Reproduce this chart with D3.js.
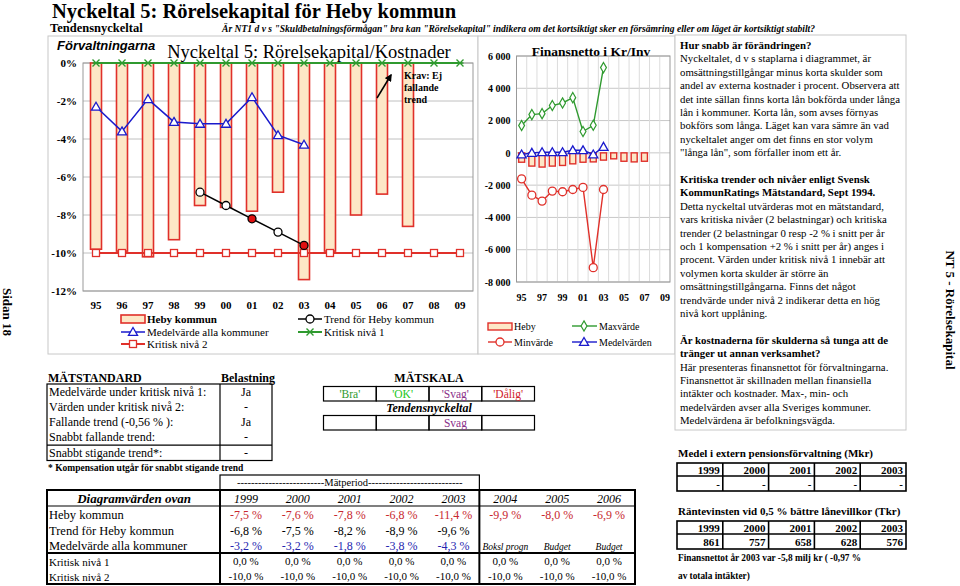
<!DOCTYPE html>
<html>
<head>
<meta charset="utf-8">
<script src="https://cdn.jsdelivr.net/npm/d3@7"></script>
<style>
  body { margin: 0; background: #fff; }
  text { font-family: "Liberation Serif", "Times New Roman", serif; }
</style>
</head>
<body>
<svg id="page" width="960" height="586"></svg>
<script>
// ---- data: main chart (Rörelsekapital/Kostnader, %) ----
const years = ['95','96','97','98','99','00','01','02','03','04','05','06','07','08','09'];
const hebyYears = ['95','96','97','98','99','00','01','02','03','04','05','06','07'];
const hebyPct = [-9.8, -9.9, -10.2, -9.3, -7.5, -7.6, -7.8, -6.8, -11.4, -9.9, -8.0, -6.9, -8.6];
const medelYears = ['95','96','97','98','99','00','01','02','03'];
const medelPct = [-2.3, -3.6, -1.9, -3.1, -3.2, -3.2, -1.8, -3.8, -4.3];
const trendYears = ['99','00','01','02','03'];
const trendPct = [-6.8, -7.5, -8.2, -8.9, -9.6];
const trendAlarm = [false, false, true, false, true];
const krit1 = [0,0,0,0,0,0,0,0,0,0,0,0,0,0,0];
const krit2 = [-10,-10,-10,-10,-10,-10,-10,-10,-10,-10,-10,-10,-10,-10,-10];
const pctTicks = [0, -2, -4, -6, -8, -10, -12];

// ---- data: Finansnetto i Kr/Inv ----
const finYears = years;
const finLabelYears = ['95','97','99','01','03','05','07','09'];
const finHeby = [-580, -820, -880, -820, -780, -680, -580, -560, -450, -370, -520, -560, -520];
const finMaxYears = ['95','96','97','98','99','00','01','02','03'];
const finMax = [1690, 2370, 2430, 2930, 3090, 3420, 1320, 1710, 5280];
const finMin = [-1610, -2620, -2990, -2370, -2410, -2270, -2140, -7110, -2270];
const finMedel = [-100, 0, 40, 40, 40, 160, 160, -100, 370];
const finTicks = [6000, 4000, 2000, 0, -2000, -4000, -6000, -8000];

// ---- data: tables ----
const tableYears = ['1999','2000','2001','2002','2003','2004','2005','2006'];
const tabHeby = ['-7,5 %','-7,6 %','-7,8 %','-6,8 %','-11,4 %','-9,9 %','-8,0 %','-6,9 %'];
const tabTrend = ['-6,8 %','-7,5 %','-8,2 %','-8,9 %','-9,6 %','','',''];
const tabMedel = ['-3,2 %','-3,2 %','-1,8 %','-3,8 %','-4,3 %','Boksl progn','Budget','Budget'];
const tabKrit1 = ['0,0 %','0,0 %','0,0 %','0,0 %','0,0 %','0,0 %','0,0 %','0,0 %'];
const tabKrit2 = ['-10,0 %','-10,0 %','-10,0 %','-10,0 %','-10,0 %','-10,0 %','-10,0 %','-10,0 %'];
const standardRows = ['Medelvärde under kritisk nivå 1:','Värden under kritisk nivå 2:','Fallande trend (-0,56 % ):','Snabbt fallande trend:','Snabbt stigande trend*:'];
const standardVals = ['Ja','-','Ja','-','-'];
const scaleLabels = ["'Bra'","'OK'","'Svag'","'Dålig'"];
const scaleColors = ['#2f9a2f','#19c619','#8a2f8a','#d0202a'];
const tendens = ['','','Svag',''];
const pensionYears = ['1999','2000','2001','2002','2003'];
const pensionVals = ['-','-','-','-','-'];
const ranteYears = ['1999','2000','2001','2002','2003'];
const ranteVals = ['861','757','658','628','576'];

const infoLines = [
  ['Hur snabb är förändringen?', true],
  ['Nyckeltalet, d v s staplarna i diagrammet, är', false],
  ['omsättningstillgångar minus korta skulder som', false],
  ['andel av externa kostnader i procent. Observera att', false],
  ['det inte sällan finns korta lån bokförda under långa', false],
  ['lån i kommuner. Korta lån, som avses förnyas', false],
  ['bokförs som långa. Läget kan vara sämre än vad', false],
  ['nyckeltalet anger om det finns en stor volym', false],
  ['"långa lån", som förfaller inom ett år.', false],
  ['', false],
  ['Kritiska trender och nivåer enligt Svensk', true],
  ['KommunRatings Mätstandard, Sept 1994.', true],
  ['Detta nyckeltal utvärderas mot en mätstandard,', false],
  ['vars kritiska nivåer (2 belastningar) och kritiska', false],
  ['trender (2 belastningar 0 resp -2 % i snitt per år', false],
  ['och 1 kompensation +2 % i snitt per år) anges i', false],
  ['procent. Värden under kritisk nivå 1 innebär att', false],
  ['volymen korta skulder är större än', false],
  ['omsättningstillgångarna.  Finns det något', false],
  ['trendvärde under nivå 2 indikerar detta en hög', false],
  ['nivå kort upplåning.', false],
  ['', false],
  ['Är kostnaderna för skulderna så tunga att de', true],
  ['tränger ut annan verksamhet?', true],
  ['Här presenteras finansnettot för förvaltningarna.', false],
  ['Finansnettot är skillnaden mellan finansiella', false],
  ['intäkter och kostnader. Max-, min- och', false],
  ['medelvärden avser alla Sveriges kommuner.', false],
  ['Medelvärdena är befolkningsvägda.', false]
];

const RED = '#e0302a', FILL = '#fde7c6', BLUE = '#1a1acc', GREEN = '#2f9a2f';
const svg = d3.select('#page');

function txt(g, x, y, s, o) {
  o = o || {};
  return g.append('text').attr('x', x).attr('y', y).text(s)
    .attr('font-size', o.size || 12)
    .attr('font-weight', o.bold ? 'bold' : null)
    .attr('font-style', o.italic ? 'italic' : null)
    .attr('text-anchor', o.anchor || 'start')
    .attr('fill', o.color || '#000')
    .style('font-family', o.family || null);
}
function marker(g, type, x, y, col, fill) {
  if (type === 'tri') {
    g.append('path').attr('d', d3.symbol(d3.symbolTriangle, 36)()).attr('transform', `translate(${x},${y + 0.8})`)
      .attr('fill', fill || '#fff').attr('stroke', col).attr('stroke-width', 1.3);
  } else if (type === 'sq') {
    g.append('rect').attr('x', x - 3.5).attr('y', y - 3.5).attr('width', 7).attr('height', 7)
      .attr('fill', fill || '#fff').attr('stroke', col).attr('stroke-width', 1.3);
  } else if (type === 'x') {
    g.append('path').attr('d', `M${x-3.5},${y-3.5}L${x+3.5},${y+3.5}M${x-3.5},${y+3.5}L${x+3.5},${y-3.5}M${x-3.5},${y}L${x+3.5},${y}`)
      .attr('stroke', col).attr('stroke-width', 1.4).attr('fill', 'none');
  } else if (type === 'circ') {
    g.append('circle').attr('cx', x).attr('cy', y).attr('r', 4)
      .attr('fill', fill || '#fff').attr('stroke', col).attr('stroke-width', 1.3);
  } else if (type === 'dia') {
    g.append('path').attr('d', d3.symbol(d3.symbolDiamond, 30)()).attr('transform', `translate(${x},${y})`)
      .attr('fill', fill || '#fff').attr('stroke', col).attr('stroke-width', 1.2);
  }
}

// ---- header ----
txt(svg, 52, 17.5, 'Nyckeltal 5: Rörelsekapital för Heby kommun', {size: 20.5, bold: true});
txt(svg, 50, 32, 'Tendensnyckeltal', {size: 12.5, bold: true});
txt(svg, 222, 32, 'Är NT1 d v s "Skuldbetalningsförmågan" bra kan "Rörelsekapital" indikera om det kortsiktigt sker en försämring eller om läget är kortsiktigt stabilt?', {size: 9.6, bold: true, italic: true})
  .attr('textLength', 593).attr('lengthAdjust', 'spacingAndGlyphs');
svg.append('text').attr('transform', 'translate(3,312) rotate(90)').attr('text-anchor', 'middle')
  .attr('font-size', 13).attr('font-weight', 'bold').text('Sidan 18');
svg.append('text').attr('transform', 'translate(946,310) rotate(90)').attr('text-anchor', 'middle')
  .attr('font-size', 13).attr('font-weight', 'bold').text('NT 5 - Rörelsekapital');

// ---- main chart ----
const main = svg.append('g');
main.append('rect').attr('x', 48).attr('y', 36).attr('width', 430).attr('height', 318)
  .attr('fill', '#fff').attr('stroke', '#c8c8c8');
const x = d3.scaleBand().domain(years).range([83, 473]);
const y = d3.scaleLinear().domain([-12, 0]).range([291, 63]);

main.append('g').selectAll('line').data(pctTicks).join('line')
  .attr('x1', 83).attr('x2', 473).attr('y1', d => y(d)).attr('y2', d => y(d))
  .attr('stroke', '#c0c0c0');
main.append('rect').attr('x', 83).attr('y', 63).attr('width', 390).attr('height', 228)
  .attr('fill', 'none').attr('stroke', '#999');

const yAx = main.append('g').attr('transform', 'translate(83,0)')
  .call(d3.axisLeft(y).tickValues(pctTicks).tickSize(0).tickPadding(6).tickFormat(d => d + '%'));
yAx.select('.domain').remove();
yAx.selectAll('text').attr('font-size', 11).attr('font-weight', 'bold').style('font-family', '"Liberation Serif", serif');
const xAx = main.append('g').attr('transform', 'translate(0,291)')
  .call(d3.axisBottom(x).tickSize(0).tickPadding(10));
xAx.select('.domain').remove();
xAx.selectAll('text').attr('font-size', 11).attr('font-weight', 'bold').style('font-family', '"Liberation Serif", serif');

const bw = 11;
main.append('g').selectAll('rect').data(hebyYears).join('rect')
  .attr('x', d => x(d) + x.bandwidth() / 2 - bw / 2).attr('width', bw)
  .attr('y', y(0)).attr('height', (d, i) => y(hebyPct[i]) - y(0))
  .attr('fill', FILL).attr('stroke', RED).attr('stroke-width', 1.6);

const cx = d => x(d) + x.bandwidth() / 2;
const line = d3.line();
main.append('path').attr('d', line(years.map((d, i) => [cx(d), y(krit1[i])])))
  .attr('stroke', GREEN).attr('stroke-width', 2).attr('fill', 'none');
years.forEach(d => marker(main, 'x', cx(d), y(0), GREEN));
main.append('path').attr('d', line(years.map((d, i) => [cx(d), y(krit2[i])])))
  .attr('stroke', RED).attr('stroke-width', 2).attr('fill', 'none');
years.forEach((d, i) => marker(main, 'sq', cx(d), y(krit2[i]), RED));
main.append('path').attr('d', line(medelYears.map((d, i) => [cx(d), y(medelPct[i])])))
  .attr('stroke', BLUE).attr('stroke-width', 1.5).attr('fill', 'none');
medelYears.forEach((d, i) => marker(main, 'tri', cx(d), y(medelPct[i]), BLUE));
main.append('path').attr('d', line(trendYears.map((d, i) => [cx(d), y(trendPct[i])])))
  .attr('stroke', '#000').attr('stroke-width', 1.5).attr('fill', 'none');
trendYears.forEach((d, i) => marker(main, 'circ', cx(d), y(trendPct[i]), '#000', trendAlarm[i] ? '#e01010' : '#fff'));

txt(main, 57, 50, 'Förvaltningarna', {size: 13, bold: true, italic: true, family: '"Liberation Sans", Arial, sans-serif'});
txt(main, 309, 58, 'Nyckeltal 5: Rörelsekapital/Kostnader', {size: 18.5, anchor: 'middle'});
txt(main, 404, 79, 'Krav: Ej', {size: 10, bold: true});
txt(main, 404, 91, 'fallande', {size: 10, bold: true});
txt(main, 404, 103, 'trend', {size: 10, bold: true});
svg.append('defs').append('marker').attr('id', 'ah').attr('viewBox', '0 0 10 10').attr('refX', 8).attr('refY', 5)
  .attr('markerWidth', 5).attr('markerHeight', 5).attr('orient', 'auto')
  .append('path').attr('d', 'M0,0L10,5L0,10z').attr('fill', '#000');
main.append('line').attr('x1', 377).attr('y1', 98).attr('x2', 391).attr('y2', 75)
  .attr('stroke', '#000').attr('stroke-width', 1.5).attr('marker-end', 'url(#ah)');

// legend main
const lg = main.append('g');
lg.append('rect').attr('x', 121).attr('y', 315).attr('width', 24).attr('height', 8).attr('fill', FILL).attr('stroke', RED).attr('stroke-width', 1.6);
txt(lg, 147, 323, 'Heby kommun', {size: 11, bold: true});
lg.append('line').attr('x1', 121).attr('x2', 145).attr('y1', 332).attr('y2', 332).attr('stroke', BLUE).attr('stroke-width', 1.5);
marker(lg, 'tri', 133, 332, BLUE);
txt(lg, 147, 336, 'Medelvärde alla kommuner', {size: 11});
lg.append('line').attr('x1', 121).attr('x2', 145).attr('y1', 344).attr('y2', 344).attr('stroke', RED).attr('stroke-width', 2);
marker(lg, 'sq', 133, 344, RED);
txt(lg, 147, 348, 'Kritisk nivå 2', {size: 11});
lg.append('line').attr('x1', 298).attr('x2', 322).attr('y1', 319).attr('y2', 319).attr('stroke', '#000').attr('stroke-width', 1.5);
marker(lg, 'circ', 310, 319, '#000');
txt(lg, 324, 323, 'Trend för Heby kommun', {size: 11});
lg.append('line').attr('x1', 298).attr('x2', 322).attr('y1', 332).attr('y2', 332).attr('stroke', GREEN).attr('stroke-width', 2);
marker(lg, 'x', 310, 332, GREEN);
txt(lg, 324, 336, 'Kritisk nivå 1', {size: 11});

// ---- Finansnetto chart ----
const fin = svg.append('g');
fin.append('rect').attr('x', 478).attr('y', 36).attr('width', 197).attr('height', 318)
  .attr('fill', '#fff').attr('stroke', '#c8c8c8');
const fx = d3.scaleBand().domain(finYears).range([516.5, 670]);
const fy = d3.scaleLinear().domain([-8000, 6000]).range([282, 56]);
const loc = d3.formatLocale({decimal: ',', thousands: ' ', grouping: [3], currency: ['', ''], minus: '-'});
fin.append('g').selectAll('line').data(finTicks).join('line')
  .attr('x1', 516.5).attr('x2', 670).attr('y1', d => fy(d)).attr('y2', d => fy(d)).attr('stroke', '#c8c8c8');
fin.append('g').selectAll('line').data(finYears.slice(1)).join('line')
  .attr('x1', d => fx(d)).attr('x2', d => fx(d)).attr('y1', 56).attr('y2', 282).attr('stroke', '#dcdcdc');
fin.append('rect').attr('x', 516.5).attr('y', 56).attr('width', 153.5).attr('height', 226)
  .attr('fill', 'none').attr('stroke', '#999');
const fyAx = fin.append('g').attr('transform', 'translate(516.5,0)')
  .call(d3.axisLeft(fy).tickValues(finTicks).tickSize(0).tickPadding(6).tickFormat(loc.format(',')));
fyAx.select('.domain').remove();
fyAx.selectAll('text').attr('font-size', 10).attr('font-weight', 'bold').style('font-family', '"Liberation Serif", serif');
const fxAx = fin.append('g').attr('transform', 'translate(0,282)')
  .call(d3.axisBottom(fx).tickValues(finLabelYears).tickSize(0).tickPadding(12));
fxAx.select('.domain').remove();
fxAx.selectAll('text').attr('font-size', 10).attr('font-weight', 'bold').style('font-family', '"Liberation Serif", serif');

const fcx = d => fx(d) + fx.bandwidth() / 2;
fin.append('g').selectAll('rect').data(hebyYears).join('rect')
  .attr('x', d => fcx(d) - 3).attr('width', 6)
  .attr('y', fy(0)).attr('height', (d, i) => fy(finHeby[i]) - fy(0))
  .attr('fill', FILL).attr('stroke', RED).attr('stroke-width', 1.4);
fin.append('path').attr('d', line(finMaxYears.map((d, i) => [fcx(d), fy(finMax[i])])))
  .attr('stroke', GREEN).attr('stroke-width', 1.4).attr('fill', 'none');
finMaxYears.forEach((d, i) => marker(fin, 'dia', fcx(d), fy(finMax[i]), GREEN));
fin.append('path').attr('d', line(finMaxYears.map((d, i) => [fcx(d), fy(finMin[i])])))
  .attr('stroke', RED).attr('stroke-width', 1.4).attr('fill', 'none');
finMaxYears.forEach((d, i) => marker(fin, 'circ', fcx(d), fy(finMin[i]), RED));
fin.append('path').attr('d', line(finMaxYears.map((d, i) => [fcx(d), fy(finMedel[i])])))
  .attr('stroke', BLUE).attr('stroke-width', 1.4).attr('fill', 'none');
finMaxYears.forEach((d, i) => marker(fin, 'tri', fcx(d), fy(finMedel[i]), BLUE));
txt(fin, 591, 56, 'Finansnetto i Kr/Inv', {size: 13.5, bold: true, anchor: 'middle'});

const fl = fin.append('g');
fl.append('rect').attr('x', 488).attr('y', 323).attr('width', 24).attr('height', 7).attr('fill', FILL).attr('stroke', RED).attr('stroke-width', 1.4);
txt(fl, 514, 330, 'Heby', {size: 10});
fl.append('line').attr('x1', 488).attr('x2', 512).attr('y1', 342).attr('y2', 342).attr('stroke', RED).attr('stroke-width', 1.4);
marker(fl, 'circ', 500, 342, RED);
txt(fl, 514, 346, 'Minvärde', {size: 10});
fl.append('line').attr('x1', 572).attr('x2', 597).attr('y1', 326).attr('y2', 326).attr('stroke', GREEN).attr('stroke-width', 1.4);
marker(fl, 'dia', 584, 326, GREEN);
txt(fl, 599, 330, 'Maxvärde', {size: 10});
fl.append('line').attr('x1', 572).attr('x2', 597).attr('y1', 342).attr('y2', 342).attr('stroke', BLUE).attr('stroke-width', 1.4);
marker(fl, 'tri', 584, 342, BLUE);
txt(fl, 599, 346, 'Medelvärden', {size: 10});

// ---- info text box ----
const info = svg.append('g');
info.append('rect').attr('x', 675).attr('y', 35).attr('width', 231).attr('height', 395)
  .attr('fill', '#fff').attr('stroke', '#c8c8c8');
infoLines.forEach((l, i) => {
  if (l[0]) txt(info, 680, 49 + i * 13.4, l[0], {size: 10.8, bold: l[1]});
});

// ---- MÄTSTANDARD ----
const ms = svg.append('g');
txt(ms, 48, 382, 'MÄTSTANDARD', {size: 12, bold: true});
txt(ms, 248, 382, 'Belastning', {size: 12, bold: true, anchor: 'middle'});
const rowY = d3.scaleLinear().domain([0, 5]).range([384, 460.5]);
ms.append('rect').attr('x', 47).attr('y', 384).attr('width', 225).attr('height', 76.5).attr('fill', 'none').attr('stroke', '#000').attr('stroke-width', 1.2);
ms.append('line').attr('x1', 220).attr('x2', 220).attr('y1', 384).attr('y2', 460.5).attr('stroke', '#000').attr('stroke-width', 1.2);
ms.append('line').attr('x1', 47).attr('x2', 272).attr('y1', rowY(4)).attr('y2', rowY(4)).attr('stroke', '#000').attr('stroke-width', 1.2);
standardRows.forEach((r, i) => {
  txt(ms, 49, rowY(i) + 11.5, r, {size: 12});
  txt(ms, 246, rowY(i) + 11.5, standardVals[i], {size: 12, anchor: 'middle'});
});
txt(ms, 48, 471, '* Kompensation utgår för snabbt stigande trend', {size: 9.5, bold: true});

txt(ms, 429, 382, 'MÄTSKALA', {size: 12, bold: true, anchor: 'middle'});
const sx = d3.scaleLinear().domain([0, 4]).range([323.5, 534.5]);
scaleLabels.forEach((s, i) => {
  ms.append('rect').attr('x', sx(i)).attr('y', 386.5).attr('width', sx(1) - sx(0)).attr('height', 14.5).attr('fill', 'none').attr('stroke', '#000').attr('stroke-width', 1.2);
  txt(ms, sx(i + 0.5), 398, s, {size: 11.5, anchor: 'middle', color: scaleColors[i]});
  ms.append('rect').attr('x', sx(i)).attr('y', 415.5).attr('width', sx(1) - sx(0)).attr('height', 14.5).attr('fill', 'none').attr('stroke', '#000').attr('stroke-width', 1.2);
  txt(ms, sx(i + 0.5), 427, tendens[i], {size: 11.5, anchor: 'middle', color: scaleColors[2]});
});
txt(ms, 429, 412, 'Tendensnyckeltal', {size: 12, bold: true, italic: true, anchor: 'middle'});

// ---- Diagramvärden table ----
const tb = svg.append('g');
const colX = d3.scaleLinear().domain([0, 8]).range([220, 635]);
const tRow = [498, 514, 530, 545, 561, 576];
tb.append('rect').attr('x', 220).attr('y', 475).attr('width', colX(5) - 220).attr('height', 15).attr('fill', 'none').attr('stroke', '#000').attr('stroke-width', 1.2);
txt(tb, (220 + colX(5)) / 2, 486, '-------------------------Mätperiod---------------------------', {size: 10.5, anchor: 'middle'});
tb.append('rect').attr('x', 47).attr('y', 490).attr('width', 588).attr('height', 94).attr('fill', 'none').attr('stroke', '#000').attr('stroke-width', 2);
tb.append('line').attr('x1', 47).attr('x2', 635).attr('y1', 506).attr('y2', 506).attr('stroke', '#000').attr('stroke-width', 1.2);
tb.append('line').attr('x1', 47).attr('x2', 635).attr('y1', 553).attr('y2', 553).attr('stroke', '#000').attr('stroke-width', 2);
tb.append('line').attr('x1', 220).attr('x2', 220).attr('y1', 490).attr('y2', 584).attr('stroke', '#000').attr('stroke-width', 2);
tb.append('line').attr('x1', colX(5)).attr('x2', colX(5)).attr('y1', 490).attr('y2', 584).attr('stroke', '#000').attr('stroke-width', 2);
txt(tb, 134, tRow[0] + 4.5, 'Diagramvärden ovan', {size: 13, bold: true, italic: true, anchor: 'middle'});
const rowLabels = ['Heby kommun', 'Trend för Heby kommun', 'Medelvärde alla kommuner', 'Kritisk nivå 1', 'Kritisk nivå 2'];
rowLabels.forEach((r, i) => txt(tb, 49, tRow[i + 1] + 4.5, r, {size: i < 3 ? 12.5 : 11}));
tableYears.forEach((yr, j) => {
  const c = colX(j + 0.5);
  txt(tb, c, tRow[0] + 4.5, yr, {size: 12, italic: true, anchor: 'middle'});
  txt(tb, c, tRow[1] + 4.5, tabHeby[j], {size: 12, anchor: 'middle', color: '#c8282e'});
  txt(tb, c, tRow[2] + 4.5, tabTrend[j], {size: 12, anchor: 'middle'});
  const small = j >= 5;
  txt(tb, c, tRow[3] + 4.5, tabMedel[j], small ? {size: 9.5, italic: true, anchor: 'middle'} : {size: 12, anchor: 'middle', color: '#2626b0'});
  txt(tb, c, tRow[4] + 4, tabKrit1[j], {size: 11, anchor: 'middle'});
  txt(tb, c, tRow[5] + 4, tabKrit2[j], {size: 11, anchor: 'middle'});
});

// ---- right bottom tables ----
const rb = svg.append('g');
const rx = d3.scaleLinear().domain([0, 5]).range([677, 906]);
function smallTable(top, title, heads, vals) {
  txt(rb, 678, top - 6, title, {size: 11, bold: true});
  rb.append('rect').attr('x', 677).attr('y', top).attr('width', 229).attr('height', 28).attr('fill', 'none').attr('stroke', '#000').attr('stroke-width', 1.6);
  rb.append('line').attr('x1', 677).attr('x2', 906).attr('y1', top + 13).attr('y2', top + 13).attr('stroke', '#000').attr('stroke-width', 1.6);
  heads.forEach((h, i) => {
    if (i > 0) rb.append('line').attr('x1', rx(i)).attr('x2', rx(i)).attr('y1', top).attr('y2', top + 28).attr('stroke', '#000').attr('stroke-width', 1.6);
    txt(rb, rx(i + 1) - 3, top + 11, h, {size: 11, bold: true, anchor: 'end'});
    txt(rb, rx(i + 1) - 3, top + 25, vals[i], {size: 11, bold: true, anchor: 'end'});
  });
}
smallTable(463, 'Medel i extern pensionsförvaltning (Mkr)', pensionYears, pensionVals);
smallTable(521, 'Räntevinsten vid 0,5 % bättre lånevillkor (Tkr)', ranteYears, ranteVals);
txt(rb, 678, 561, 'Finansnettot år 2003 var -5,8 milj kr ( -0,97 %', {size: 9.3, bold: true});
txt(rb, 678, 579, 'av totala intäkter)', {size: 9.3, bold: true});
</script>
</body>
</html>
